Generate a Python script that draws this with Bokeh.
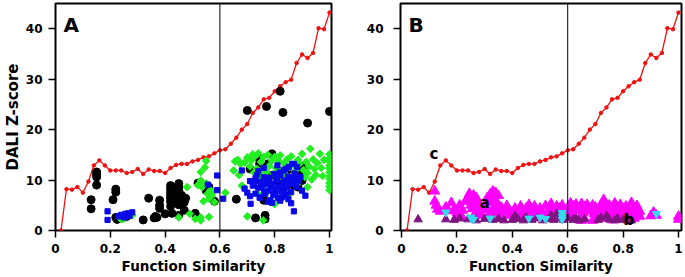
from bokeh.plotting import figure
from bokeh.layouts import row
from bokeh.models import Span, Label, FixedTicker, Range1d, CustomJSTickFormatter
from bokeh.embed import file_html
from bokeh.resources import INLINE

FONT = "DejaVu Sans"
RED = "#ee1111"
BLACK = "#000000"
BLUE = "#0a0ae8"
GREEN = "#22ee22"
MAGENTA = "#ff00ff"
PURPLE = "#7f1480"
CYAN = "#33dcef"

x_ticks = [0, 0.2, 0.4, 0.6, 0.8, 1]
y_ticks = [0, 10, 20, 30, 40]

# threshold curve (red)
red_x = [0.02, 0.04, 0.06, 0.08, 0.10, 0.12, 0.14, 0.16, 0.18, 0.20,
         0.22, 0.24, 0.26, 0.28, 0.30, 0.32, 0.34, 0.36, 0.38, 0.40,
         0.42, 0.44, 0.46, 0.48, 0.50, 0.52, 0.54, 0.56, 0.58, 0.60,
         0.62, 0.64, 0.66, 0.68, 0.70, 0.72, 0.74, 0.76, 0.78, 0.80,
         0.82, 0.84, 0.86, 0.88, 0.90, 0.92, 0.94, 0.96, 0.98, 1.00]
red_y = [0.0, 8.2, 8.1, 8.6, 7.5, 9.7, 12.9, 13.9, 12.9, 11.9,
         11.9, 11.9, 11.4, 11.6, 12.2, 11.2, 12.1, 11.8, 11.8, 11.4,
         12.4, 13.0, 13.2, 13.2, 13.7, 14.0, 14.5, 14.7, 15.3, 15.9,
         16.1, 17.2, 18.4, 20.0, 21.1, 23.3, 24.4, 26.0, 26.3, 27.6,
         28.6, 29.4, 29.9, 33.2, 34.9, 34.2, 35.2, 40.1, 39.9, 43.2]

# panel A
black_pts = [(0.13, 6.1), (0.13, 4.3), (0.15, 11.6), (0.15, 11.1), (0.15, 10.6), (0.15, 9.0),
             (0.21, 6.1), (0.22, 8.2), (0.22, 7.6), (0.22, 2.6), (0.225, 2.2), (0.245, 2.5), (0.26, 2.8),
             (0.32, 2.1), (0.34, 6.4), (0.36, 2.5), (0.365, 2.8), (0.37, 2.6), (0.38, 6.0), (0.38, 5.0),
             (0.38, 4.4), (0.40, 3.3), (0.42, 8.9), (0.42, 8.3), (0.42, 7.6), (0.42, 7.0), (0.42, 6.4),
             (0.42, 5.7), (0.42, 4.8), (0.425, 3.4), (0.43, 8.6), (0.43, 7.3), (0.43, 6.7), (0.43, 6.1),
             (0.44, 7.0), (0.44, 6.3), (0.44, 5.5), (0.45, 9.3), (0.45, 8.7), (0.45, 8.0), (0.45, 7.3),
             (0.45, 6.6), (0.45, 5.8), (0.45, 5.1), (0.45, 3.0), (0.46, 7.0), (0.46, 6.2), (0.47, 5.6),
             (0.47, 4.0), (0.475, 6.4), (0.51, 3.4), (0.52, 9.4), (0.55, 7.9), (0.56, 8.6), (0.58, 5.8),
             (0.66, 6.2), (0.70, 23.8), (0.71, 12.2), (0.73, 2.5), (0.74, 14.4), (0.745, 13.2),
             (0.75, 12.7), (0.74, 10.1), (0.765, 3.0), (0.765, 2.3), (0.77, 24.6), (0.76, 6.0),
             (0.775, 13.2), (0.79, 15.2), (0.785, 10.9), (0.82, 27.6), (0.83, 23.4), (0.815, 11.2),
             (0.815, 9.6), (0.845, 11.9), (0.87, 8.9), (0.885, 8.6), (0.89, 11.6), (0.895, 12.3),
             (0.895, 10.4), (0.90, 11.0), (0.90, 9.9), (0.905, 12.8), (0.92, 21.3), (1.0, 23.6)]

green_pts = [(0.24, 2.2), (0.25, 2.4), (0.28, 3.0), (0.45, 2.6), (0.48, 8.6), (0.49, 3.3), (0.51, 2.3),
             (0.52, 9.0), (0.53, 2.0), (0.53, 2.6), (0.53, 9.9), (0.53, 11.6), (0.535, 8.6), (0.54, 5.8),
             (0.545, 12.5), (0.55, 13.8), (0.55, 9.3), (0.555, 7.3), (0.56, 2.7), (0.56, 6.3), (0.565, 8.0),
             (0.57, 6.9), (0.575, 7.7), (0.58, 5.6), (0.62, 7.5), (0.65, 11.9), (0.655, 13.7), (0.665, 14.0),
             (0.67, 11.0), (0.675, 13.2), (0.68, 8.9), (0.69, 13.5), (0.70, 2.8), (0.70, 14.5), (0.71, 12.7),
             (0.715, 13.9), (0.72, 15.1), (0.72, 9.5), (0.725, 11.5), (0.73, 14.8), (0.735, 12.2),
             (0.74, 15.3), (0.74, 7.2), (0.745, 10.8), (0.75, 13.6), (0.755, 12.0), (0.758, 2.0),
             (0.76, 14.6), (0.765, 9.0), (0.77, 11.6), (0.775, 15.0), (0.78, 12.8), (0.785, 8.1),
             (0.79, 13.9), (0.795, 11.2), (0.80, 14.6), (0.80, 5.2), (0.805, 12.4), (0.81, 10.2),
             (0.815, 13.8), (0.82, 14.9), (0.825, 12.0), (0.83, 6.6), (0.835, 13.3), (0.84, 11.1),
             (0.845, 14.1), (0.85, 7.0), (0.855, 12.6), (0.86, 14.7), (0.865, 10.3), (0.87, 13.0),
             (0.875, 11.8), (0.88, 9.2), (0.885, 14.0), (0.89, 13.2), (0.90, 15.2), (0.905, 12.0),
             (0.91, 10.6), (0.915, 13.6), (0.92, 11.4), (0.92, 8.6), (0.925, 12.7), (0.93, 16.2),
             (0.935, 10.1), (0.94, 14.1), (0.945, 12.2), (0.95, 11.0), (0.955, 13.4), (0.965, 15.2),
             (0.97, 12.4), (0.975, 10.8), (0.98, 14.0), (1.0, 15.1), (1.0, 14.3), (1.0, 13.7),
             (1.0, 12.9), (1.0, 12.3), (1.0, 11.6), (1.0, 10.8), (1.0, 10.2), (1.0, 9.4), (1.0, 8.7),
             (1.0, 8.0)]

blue_pts = [(0.19, 3.8), (0.19, 2.1), (0.23, 2.8), (0.24, 3.1), (0.25, 2.6), (0.255, 3.3), (0.265, 3.4),
            (0.27, 2.9), (0.28, 3.6), (0.556, 9.1), (0.59, 10.9), (0.59, 8.0), (0.612, 6.3),
            (0.68, 11.9), (0.69, 8.3), (0.70, 7.5), (0.71, 9.8), (0.712, 5.3), (0.72, 8.9), (0.724, 9.3),
            (0.73, 7.3), (0.735, 11.0), (0.74, 8.5), (0.745, 6.5), (0.748, 6.6), (0.75, 9.6),
            (0.754, 8.6), (0.76, 10.6), (0.762, 7.6), (0.766, 7.3), (0.77, 9.2), (0.772, 9.9),
            (0.775, 5.7), (0.778, 7.9), (0.78, 10.4), (0.784, 6.0), (0.787, 8.8), (0.79, 9.3),
            (0.795, 7.0), (0.797, 11.2), (0.80, 8.3), (0.803, 7.3), (0.806, 10.1), (0.809, 9.9),
            (0.812, 6.4), (0.815, 8.6), (0.818, 11.5), (0.821, 10.9), (0.824, 7.8), (0.827, 6.6),
            (0.83, 9.4), (0.833, 11.9), (0.836, 8.2), (0.839, 9.9), (0.842, 7.1), (0.845, 8.6),
            (0.848, 10.7), (0.851, 12.6), (0.854, 9.2), (0.857, 9.9), (0.86, 7.6), (0.863, 13.2),
            (0.866, 10.4), (0.869, 9.3), (0.872, 11.3), (0.876, 11.2), (0.879, 8.7), (0.882, 12.6),
            (0.885, 10.0), (0.888, 9.9), (0.87, 3.8), (0.87, 13.2), (0.894, 10.6), (0.90, 7.9),
            (0.912, 6.9), (0.74, 11.8), (0.76, 12.4), (0.79, 5.5), (0.81, 12.9), (0.82, 5.9),
            (0.84, 12.2), (0.85, 6.2), (0.73, 10.4), (0.71, 6.8), (0.86, 5.4)]

# panel B
magenta_pts = [(0.12, 7.8), (0.12, 5.8), (0.125, 5.0), (0.13, 4.2), (0.14, 3.8), (0.16, 4.6), (0.17, 3.9),
               (0.18, 5.5), (0.19, 4.2), (0.20, 3.6), (0.20, 2.9), (0.21, 5.0), (0.22, 4.0), (0.23, 5.7),
               (0.24, 6.6), (0.245, 7.3), (0.25, 6.2), (0.25, 5.0), (0.255, 4.3), (0.26, 7.0), (0.26, 5.7),
               (0.265, 3.3), (0.27, 6.5), (0.27, 4.8), (0.28, 5.4), (0.28, 3.6), (0.29, 4.4), (0.29, 3.0),
               (0.30, 5.0), (0.31, 4.1), (0.31, 6.5), (0.32, 7.2), (0.32, 5.5), (0.325, 3.6), (0.33, 7.8),
               (0.33, 6.2), (0.335, 4.7), (0.34, 7.5), (0.34, 5.8), (0.345, 3.9), (0.35, 6.9), (0.35, 5.0),
               (0.355, 3.2), (0.36, 4.6), (0.37, 3.6), (0.38, 4.9), (0.39, 4.0), (0.39, 3.0), (0.40, 3.5),
               (0.41, 4.4), (0.42, 3.2), (0.43, 4.8), (0.44, 3.8), (0.45, 4.4), (0.46, 5.1), (0.46, 3.3),
               (0.47, 4.1), (0.48, 4.8), (0.49, 3.6), (0.50, 4.4), (0.51, 3.2), (0.52, 4.9), (0.53, 3.9),
               (0.54, 5.3), (0.545, 4.3), (0.55, 3.3), (0.56, 4.8), (0.565, 3.7), (0.57, 4.4), (0.58, 5.0),
               (0.59, 3.6), (0.60, 4.4), (0.61, 5.4), (0.615, 3.4), (0.62, 4.8), (0.63, 5.2), (0.635, 3.9),
               (0.64, 4.5), (0.65, 5.3), (0.655, 3.5), (0.66, 4.7), (0.67, 5.1), (0.675, 3.8), (0.68, 4.4),
               (0.69, 5.0), (0.695, 3.3), (0.70, 4.6), (0.71, 4.0), (0.72, 5.1), (0.725, 3.6), (0.73, 6.1),
               (0.735, 4.6), (0.74, 3.8), (0.75, 5.0), (0.755, 4.2), (0.76, 3.4), (0.77, 5.4), (0.775, 4.3),
               (0.78, 3.5), (0.79, 5.1), (0.80, 4.3), (0.805, 3.2), (0.81, 4.8), (0.82, 3.8), (0.83, 5.5),
               (0.835, 4.3), (0.84, 3.2), (0.85, 4.9), (0.86, 3.8), (0.86, 2.8), (0.90, 2.9), (0.91, 3.6),
               (0.92, 3.0), (1.0, 2.8), (1.0, 2.2), (0.22, 2.5), (0.31, 2.6), (0.36, 2.4), (0.44, 2.6),
               (0.48, 2.5), (0.53, 2.5), (0.57, 2.6), (0.62, 2.5), (0.66, 2.4), (0.70, 2.5), (0.74, 2.4),
               (0.79, 2.5), (0.84, 2.4), (0.65, 2.0), (0.69, 2.0), (0.76, 2.1), (0.82, 2.0)]

purple_pts = [(0.06, 2.2), (0.16, 2.2), (0.19, 2.1), (0.21, 2.4), (0.24, 2.2), (0.27, 2.0), (0.30, 2.3),
              (0.33, 2.1), (0.35, 2.3), (0.37, 2.0), (0.40, 2.1), (0.42, 2.3), (0.44, 2.0), (0.45, 2.6),
              (0.47, 2.1), (0.49, 2.4), (0.51, 2.0), (0.53, 2.3), (0.54, 3.0), (0.55, 2.1), (0.57, 2.4),
              (0.585, 2.1), (0.60, 2.5), (0.62, 2.1), (0.63, 2.4), (0.64, 2.0), (0.66, 2.2), (0.71, 2.1),
              (0.72, 2.5), (0.74, 2.9), (0.75, 2.2), (0.77, 2.0), (0.78, 2.4), (0.80, 2.1), (0.815, 2.6),
              (0.83, 2.0), (0.56, 3.3), (0.41, 2.9)]

cyan_pts = [(0.16, 3.6), (0.25, 2.6), (0.26, 2.2), (0.32, 2.4), (0.46, 2.4), (0.50, 2.6), (0.52, 2.3),
            (0.58, 3.5), (0.58, 2.8), (0.58, 2.2), (0.92, 3.3)]

Y_TOP = 45.0


def xs(pts):
    return [p[0] for p in pts]


def ys(pts):
    return [p[1] for p in pts]


def text_label(p, x, y, text, size):
    p.add_layout(Label(x=x, y=y, text=text, text_font=FONT, text_font_style="bold",
                       text_font_size=size, text_color="black", text_align="left",
                       text_baseline="alphabetic"))


def make_fig(width, left, right, x_start, x_end, ylabel, ystandoff):
    p = figure(width=width, height=277, output_backend="svg", toolbar_location=None,
               x_range=Range1d(x_start, x_end), y_range=Range1d(0, Y_TOP),
               min_border_left=left, min_border_right=right, min_border_top=3, min_border_bottom=47)
    p.grid.visible = False
    p.outline_line_color = "black"
    p.outline_line_width = 2
    p.background_fill_color = "white"
    p.border_fill_color = "white"
    p.xaxis.ticker = FixedTicker(ticks=x_ticks)
    p.yaxis.ticker = FixedTicker(ticks=y_ticks)
    p.xaxis.formatter = CustomJSTickFormatter(code="return String(tick);")
    for ax in (p.xaxis[0], p.yaxis[0]):
        ax.axis_line_color = None
        ax.major_tick_out = 7
        ax.major_tick_in = 0
        ax.major_tick_line_width = 1.5
        ax.major_tick_line_color = "black"
        ax.minor_tick_line_color = None
        ax.major_label_text_font = FONT
        ax.major_label_text_font_style = "bold"
        ax.major_label_text_font_size = "12px"
        ax.major_label_text_color = "black"
        ax.axis_label_text_font = FONT
        ax.axis_label_text_font_style = "bold"
        ax.axis_label_text_color = "black"
    p.xaxis.major_label_standoff = 6
    p.yaxis.major_label_standoff = ystandoff
    p.xaxis.axis_label = "Function Similarity"
    p.xaxis.axis_label_text_font_size = "13.5px"
    p.xaxis.axis_label_standoff = 2
    if ylabel:
        p.yaxis.axis_label = ylabel
        p.yaxis.axis_label_text_font_size = "15px"
        p.yaxis.axis_label_standoff = 1
    p.add_layout(Span(location=0.6, dimension="height", line_color="black", line_width=1))
    p.line(red_x, red_y, line_color=RED, line_width=1.3)
    p.scatter(red_x, red_y, size=3.5, color=RED)
    return p


pa = make_fig(345, 55, 14, 0, 1.0073, "DALI Z-score", 6)
pa.scatter(xs(black_pts), ys(black_pts), marker="circle", size=8, color=BLACK)
pa.scatter(xs(green_pts), ys(green_pts), marker="square", angle=0.785, size=5.4, color=GREEN)
pa.scatter(xs(blue_pts), ys(blue_pts), marker="square", size=5.2, color=BLUE)
text_label(pa, 0.029, 40.65, "A", "20px")

pb = make_fig(340, 55, 4, -0.0036, 1.0108, None, 10)
pb.scatter(xs(magenta_pts), ys(magenta_pts), marker="triangle", size=10, color=MAGENTA)
pb.scatter(xs(purple_pts), ys(purple_pts), marker="triangle", size=8.5, color=PURPLE)
pb.scatter(xs(cyan_pts), ys(cyan_pts), marker="inverted_triangle", size=8, color=CYAN)
text_label(pb, 0.025, 40.65, "B", "20px")
text_label(pb, 0.101, 15.07, "c", "15px")
text_label(pb, 0.282, 5.55, "a", "15px")
text_label(pb, 0.801, 2.18, "b", "15px")

layout = row(pa, pb, spacing=0)
open("out.html", "w").write(file_html(layout, INLINE))
